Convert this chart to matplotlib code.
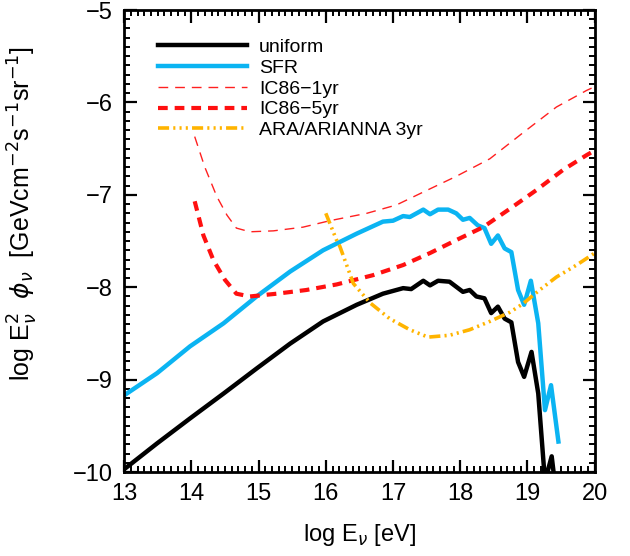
import numpy as np
import matplotlib
matplotlib.use("Agg")
import matplotlib.pyplot as plt
from matplotlib.ticker import MultipleLocator

plt.rcParams['font.family'] = ['Liberation Sans', 'DejaVu Sans']
plt.rcParams['lines.scale_dashes'] = False

# uniform source evolution
uni_x = [13.0, 13.49, 13.98, 14.48, 14.97, 15.47, 15.96, 16.46, 16.85, 17.15, 17.27, 17.45,
         17.55, 17.67, 17.84, 18.04, 18.14, 18.24, 18.36, 18.46, 18.56, 18.66, 18.76, 18.86,
         18.95, 19.06, 19.16, 19.26, 19.36, 19.46]
uni_y = [-9.97, -9.69, -9.42, -9.15, -8.88, -8.61, -8.37, -8.19, -8.07, -8.01, -8.02, -7.93,
         -7.98, -7.93, -7.94, -8.05, -8.03, -8.10, -8.12, -8.28, -8.21, -8.34, -8.38, -8.81,
         -8.97, -8.70, -9.15, -10.10, -9.83, -10.44]

# SFR evolution
sfr_x = [13.0, 13.49, 13.98, 14.48, 14.97, 15.47, 15.96, 16.46, 16.85, 17.0, 17.15, 17.25,
         17.45, 17.55, 17.67, 17.82, 17.94, 18.04, 18.14, 18.26, 18.36, 18.46, 18.56, 18.66,
         18.76, 18.86, 18.95, 19.05, 19.16, 19.26, 19.35, 19.46]
sfr_y = [-9.17, -8.93, -8.64, -8.39, -8.10, -7.83, -7.60, -7.42, -7.29, -7.28, -7.23, -7.24,
         -7.16, -7.21, -7.16, -7.16, -7.20, -7.27, -7.25, -7.33, -7.36, -7.53, -7.44, -7.58,
         -7.62, -8.03, -8.19, -7.93, -8.39, -9.33, -9.06, -9.67]

# IceCube 86 strings sensitivities
ic1_x = [14.05, 14.20, 14.38, 14.53, 14.67, 14.87, 15.22, 15.66, 16.06, 16.61, 17.05, 17.45,
         17.94, 18.44, 18.93, 19.43, 19.88, 20.0]
ic1_y = [-6.37, -6.70, -7.02, -7.22, -7.36, -7.40, -7.39, -7.35, -7.28, -7.20, -7.11, -6.97,
         -6.80, -6.61, -6.33, -6.05, -5.87, -5.83]
ic5_x = [14.05, 14.18, 14.33, 14.50, 14.67, 14.87, 15.27, 15.71, 16.16, 16.70, 17.15, 17.55,
         17.94, 18.34, 18.74, 19.13, 19.53, 19.88, 20.0]
ic5_y = [-7.07, -7.44, -7.71, -7.92, -8.07, -8.10, -8.07, -8.03, -7.97, -7.87, -7.76, -7.63,
         -7.49, -7.35, -7.15, -6.95, -6.73, -6.57, -6.52]

# ARA/ARIANNA 3yr
ara_x = [16.0, 16.16, 16.21, 16.41, 16.66, 16.95, 17.25, 17.52, 17.84, 18.14, 18.44, 18.74,
         18.93, 19.18, 19.43, 19.73, 20.0]
ara_y = [-7.20, -7.49, -7.56, -7.96, -8.17, -8.34, -8.46, -8.54, -8.52, -8.46, -8.37, -8.27,
         -8.18, -8.03, -7.89, -7.76, -7.63]

fig = plt.figure(figsize=(6.3, 5.56), dpi=100)
ax = fig.add_axes([0.197, 0.151, 0.747, 0.831])

ax.plot(uni_x, uni_y, color='black', lw=3.2, label='uniform')
ax.plot(sfr_x, sfr_y, color='#0BB4F2', lw=3.2, label='SFR')
ax.plot(ic1_x, ic1_y, color='#FF2020', lw=1.0, dashes=(7, 5), label='IC86\u22121yr')
ax.plot(ic5_x, ic5_y, color='#FF1010', lw=3.0, dashes=(7, 5), label='IC86\u22125yr')
ax.plot(ara_x, ara_y, color='#FFB400', lw=2.6,
        dashes=(8, 3, 1.5, 3, 1.5, 3, 1.5, 3), label='ARA/ARIANNA 3yr')

ax.set_xlim(13, 20)
ax.set_ylim(-10, -5)
ax.xaxis.set_major_locator(MultipleLocator(1))
ax.xaxis.set_minor_locator(MultipleLocator(0.1))
ax.yaxis.set_major_locator(MultipleLocator(1))
ax.yaxis.set_minor_locator(MultipleLocator(0.1))
ax.tick_params(which='both', direction='in', top=True, right=True)
ax.tick_params(which='major', length=9, width=1.6, labelsize=17, pad=8)
ax.tick_params(which='minor', length=4.5, width=1.4)
for s in ax.spines.values():
    s.set_linewidth(2)

ax.set_xlabel(r'log E$_\nu$ [eV]', fontsize=17, labelpad=12)
ax.set_ylabel(r'log E$_\nu^2$  $\phi_\nu$  [GeVcm$^{-2}$s$^{-1}$sr$^{-1}$]', fontsize=18)
ax.yaxis.set_label_coords(-0.178, 0.56)

ax.legend(loc='upper left', bbox_to_anchor=(0.055, 0.955), frameon=False, fontsize=14,
          handlelength=4.6, handletextpad=0.6, labelspacing=0.16, borderaxespad=0)

fig.savefig('out.png', dpi=100)
